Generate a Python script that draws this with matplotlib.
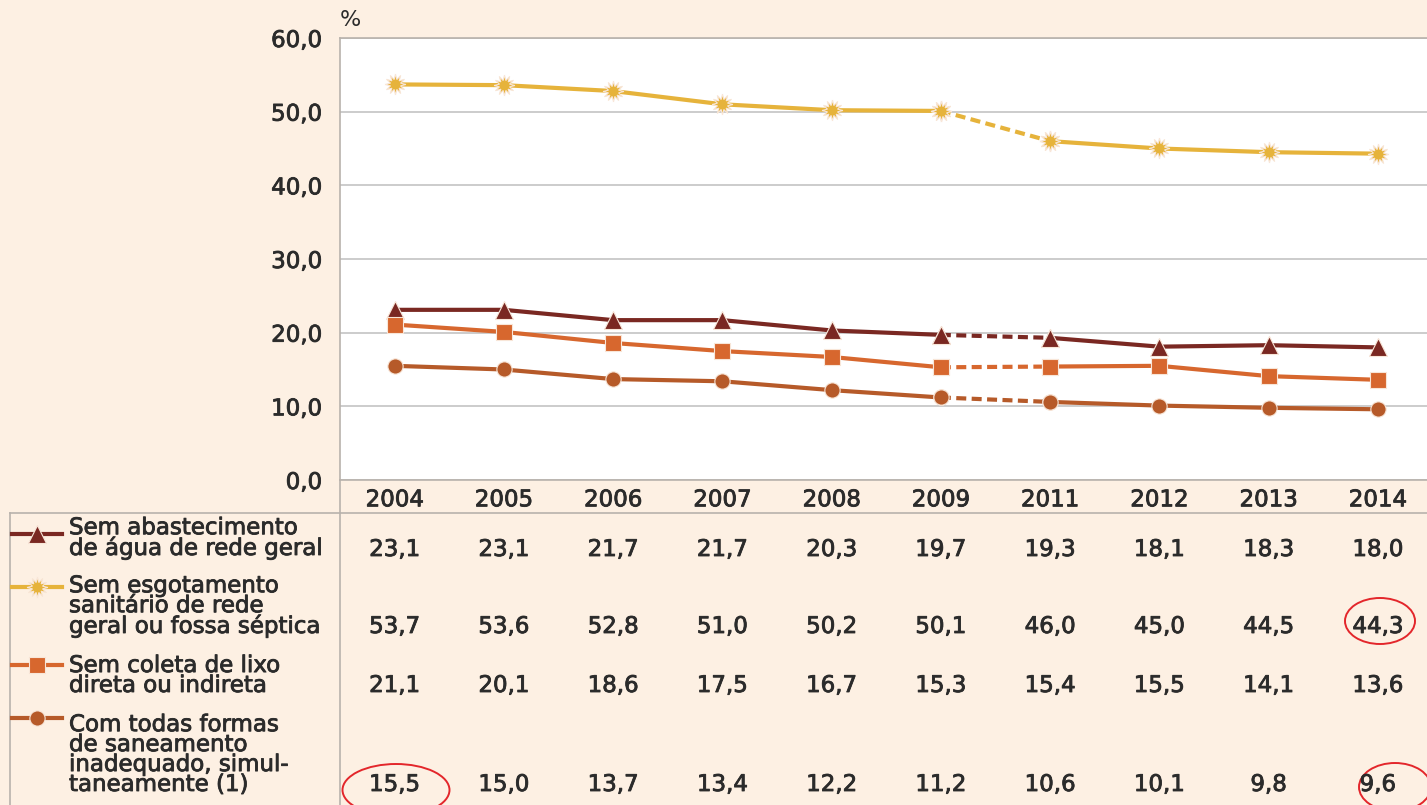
import matplotlib
matplotlib.use('Agg')
import matplotlib.pyplot as plt
import matplotlib.transforms as mtransforms
import matplotlib.patheffects as pe
from matplotlib.lines import Line2D
from matplotlib.patches import Ellipse

anos = ['2004', '2005', '2006', '2007', '2008', '2009', '2011', '2012', '2013', '2014']
agua = [23.1, 23.1, 21.7, 21.7, 20.3, 19.7, 19.3, 18.1, 18.3, 18.0]
esgoto = [53.7, 53.6, 52.8, 51.0, 50.2, 50.1, 46.0, 45.0, 44.5, 44.3]
lixo = [21.1, 20.1, 18.6, 17.5, 16.7, 15.3, 15.4, 15.5, 14.1, 13.6]
todas = [15.5, 15.0, 13.7, 13.4, 12.2, 11.2, 10.6, 10.1, 9.8, 9.6]

rotulos = ['Sem abastecimento\nde água de rede geral',
           'Sem esgotamento\nsanitário de rede\ngeral ou fossa séptica',
           'Sem coleta de lixo\ndireta ou indireta',
           'Com todas formas\nde saneamento\ninadequado, simul-\ntaneamente (1)']

W, H = 1427, 805
fundo = '#fdf0e3'
cinza = '#b8b2ac'
texto = '#2b2b2b'
plt.rcParams['font.family'] = ['DejaVu Sans']
grosso = [pe.withStroke(linewidth=0.6, foreground=texto)]

def fx(x):
    return x / W

def fy(y):
    return 1 - y / H

fig = plt.figure(figsize=(W / 100, H / 100), dpi=100, facecolor=fundo)
ax = fig.add_axes([fx(340), fy(480), fx(1427) - fx(340), fy(38) - fy(480)])
ax.set_facecolor('white')

series = [
    (agua, '#7a2822', '^', 13),
    (esgoto, '#e6b33b', (12, 1, 0), 15),
    (lixo, '#d7672e', 's', 11),
    (todas, '#b65a29', 'o', 11),
]

x = list(range(len(anos)))
for vals, cor, mk, ms in series:
    kw = dict(color=cor, lw=3, marker=mk, ms=ms, mfc=cor, mec='#f8e6d8', mew=0.8, zorder=3)
    ax.plot(x[:6], vals[:6], **kw)
    ax.plot(x[5:7], vals[5:7], ls=(0, (2.4, 1.3)), **kw)
    ax.plot(x[6:], vals[6:], **kw)

ax.set_ylim(0, 60)
ax.set_xlim(-0.5, 9.45)
ax.set_yticks(range(0, 61, 10))
ax.set_yticklabels([f'{v},0' for v in range(0, 61, 10)])
ax.set_xticks(x)
ax.set_xticklabels(anos)
ax.tick_params(axis='both', length=0, labelsize=16.5, colors=texto)
ax.tick_params(axis='y', pad=13)
ax.tick_params(axis='x', pad=6)
for lab in ax.get_xticklabels() + ax.get_yticklabels():
    lab.set_path_effects(grosso)
ax.grid(axis='y', color='#c4c4c4', lw=1.2)
for s in ['top', 'left', 'bottom']:
    ax.spines[s].set_color(cinza)
    ax.spines[s].set_linewidth(1.2)
ax.spines['right'].set_visible(False)

fig.text(fx(340), fy(20), '%', fontsize=16, color=texto, va='center', ha='left')

# linhas da tabela
fig.add_artist(Line2D([fx(10), 1], [fy(513), fy(513)], color=cinza, lw=1.2))
fig.add_artist(Line2D([fx(340), fx(340)], [fy(480), 0], color=cinza, lw=1.2))
fig.add_artist(Line2D([fx(10), fx(10)], [fy(513), 0], color=cinza, lw=1.2))

trans = mtransforms.blended_transform_factory(ax.transData, fig.transFigure)
base_valores = [556, 633, 692, 791]
base_rotulos = [555, 633, 692, 791]
y_simbolos = [534, 587, 665, 718]

for (vals, cor, mk, ms), rot, yb, yr, ys in zip(series, rotulos, base_valores, base_rotulos, y_simbolos):
    for i, v in enumerate(vals):
        fig.text(i, fy(yb), f'{v:.1f}'.replace('.', ','), transform=trans,
                 ha='center', va='baseline', fontsize=16.5, color=texto, path_effects=grosso)
    fig.text(fx(69), fy(yr), rot, ha='left', va='baseline', fontsize=16.5,
             color=texto, linespacing=0.83, path_effects=grosso)
    fig.add_artist(Line2D([fx(12), fx(37), fx(62)], [fy(ys)] * 3, color=cor, lw=3,
                          marker=mk, ms=ms, mfc=cor, mec='#f8e6d8', mew=0.8, markevery=[1]))

# destaques em vermelho
for cx, cy, w, h in [(1380, 621, 70, 46), (396, 790, 107, 52), (1395, 787, 72, 48)]:
    fig.add_artist(Ellipse((fx(cx), fy(cy)), w / W, h / H, fill=False,
                           edgecolor='#e3262b', lw=1.4, transform=fig.transFigure))

fig.savefig('out.png', dpi=100, facecolor=fundo)
